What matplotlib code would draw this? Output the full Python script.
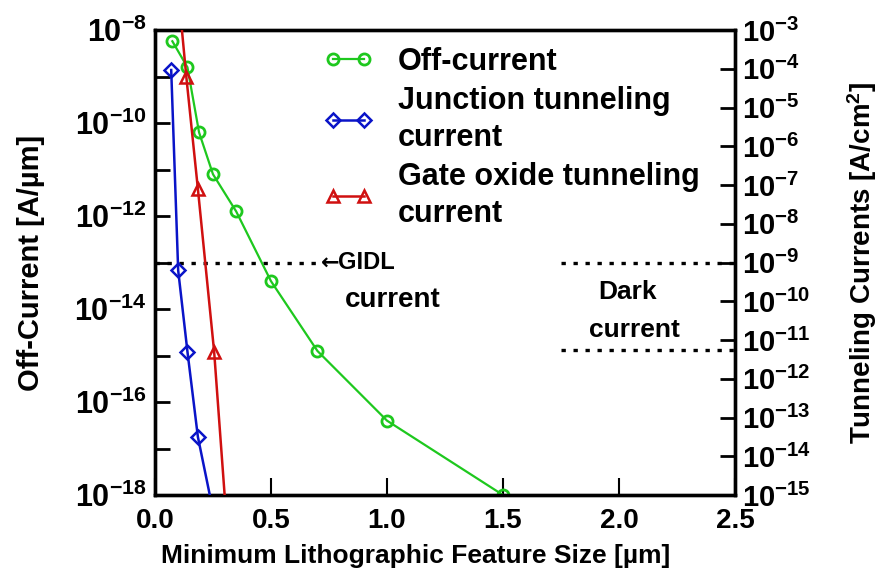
import math
import matplotlib
matplotlib.use("Agg")
import matplotlib.pyplot as plt
from matplotlib.lines import Line2D
from matplotlib.ticker import FixedLocator, FuncFormatter, NullLocator

plt.rcParams['font.family'] = ['Liberation Sans', 'DejaVu Sans']
plt.rcParams['font.weight'] = 'bold'
plt.rcParams['axes.labelweight'] = 'bold'
plt.rcParams['mathtext.default'] = 'regular'

# Off-current (left axis, A/um)
off_x = [0.075, 0.14, 0.19, 0.25, 0.35, 0.5, 0.7, 1.0, 1.5]
off_y = [10**-8.24, 10**-8.8, 10**-10.2, 10**-11.1, 10**-11.9,
         10**-13.4, 10**-14.9, 10**-16.4, 10**-18.0]

# Junction tunneling current (right axis, A/cm^2)
jun_x = [0.07, 0.10, 0.14, 0.185, 0.25]
jun_y = [10**-4.03, 10**-9.2, 10**-11.3, 10**-13.5, 10**-15.4]

# Gate oxide tunneling current (right axis, A/cm^2)
gate_x = [0.11, 0.135, 0.185, 0.255, 0.31]
gate_y = [10**-2.6, 10**-4.2, 10**-7.1, 10**-11.3, 10**-15.8]

left_decades = list(range(-18, -7))
right_decades = list(range(-15, -2))
gidl_level = 1e-13
dark_level = 10**-11.26

fig = plt.figure(figsize=(8.83, 5.79), dpi=100)
ax = fig.add_axes([0.1755, 0.145, 0.657, 0.803])
ax2 = ax.twinx()

green = '#1ec81e'
blue = '#0a14c8'
red = '#d01010'

ax.plot(off_x, off_y, '-', color=green, lw=1.6, marker='o', ms=8,
        mfc='none', mec=green, mew=2, zorder=3)
ax2.plot(jun_x, jun_y, '-', color=blue, lw=1.8, marker='D', ms=7,
         mfc='none', mec=blue, mew=1.8, zorder=3)
ax2.plot(gate_x, gate_y, '-', color=red, lw=1.8, marker='^', ms=9,
         mfc='none', mec=red, mew=1.8, zorder=3)

# dotted reference levels
dots = (0, (1.3, 2.3))
ax.plot([0, 0.72], [gidl_level, gidl_level], color='black', ls=dots, lw=2.4)
ax.plot([1.75, 2.5], [gidl_level, gidl_level], color='black', ls=dots, lw=2.4)
ax2.plot([1.75, 2.5], [dark_level, dark_level], color='black', ls=dots, lw=2.4)

ax.text(0.715, gidl_level, '\u2190', fontsize=16, va='center', ha='left',
        family='DejaVu Sans')
ax.text(0.79, gidl_level, 'GIDL', fontsize=17, va='center', ha='left')
ax.text(0.82, 10**-13.8, 'current', fontsize=20, va='center', ha='left')
ax2.text(1.91, 10**-9.75, 'Dark', fontsize=19, va='center', ha='left')
ax2.text(1.87, 10**-10.75, 'current', fontsize=19, va='center', ha='left')

ax.set_xlim(0, 2.5)
ax.set_yscale('log')
ax.set_ylim(1e-18, 1e-8)
ax2.set_yscale('log')
ax2.set_ylim(1e-15, 1e-3)

ax.set_xticks([0.0, 0.5, 1.0, 1.5, 2.0, 2.5])
ax.set_xticklabels(['0.0', '0.5', '1.0', '1.5', '2.0', '2.5'])
ax.yaxis.set_major_locator(FixedLocator([10.0**d for d in left_decades]))
ax.yaxis.set_minor_locator(NullLocator())
ax.yaxis.set_major_formatter(FuncFormatter(
    lambda v, p: '$10^{%d}$' % round(math.log10(v))
    if round(math.log10(v)) % 2 == 0 else ''))
ax2.yaxis.set_major_locator(FixedLocator([10.0**d for d in right_decades]))
ax2.yaxis.set_minor_locator(NullLocator())
ax2.yaxis.set_major_formatter(FuncFormatter(
    lambda v, p: '$10^{%d}$' % round(math.log10(v))))

ax.tick_params(axis='x', direction='in', length=12, width=1.5, labelsize=20,
               pad=9, top=False)
ax.tick_params(axis='y', direction='in', length=11, width=2, labelsize=22, pad=6)
ax2.tick_params(axis='y', direction='in', length=11, width=2, labelsize=21, pad=5)

for a in (ax, ax2):
    for s in a.spines.values():
        s.set_linewidth(2.4)

ax.set_xlabel('Minimum Lithographic Feature Size [\u00b5m]', fontsize=19)
ax.set_ylabel('Off-Current [A/\u00b5m]', fontsize=21)
ax2.set_ylabel('Tunneling Currents [A/cm$^2$]', fontsize=20)
ax.xaxis.set_label_coords(0.45, -0.105)
ax.yaxis.set_label_coords(-0.19, 0.5)
ax2.yaxis.set_label_coords(1.19, 0.5)

handles = [
    Line2D([], [], color=green, lw=1.6, marker='o', ms=8, mfc='none', mec=green, mew=2),
    Line2D([], [], color=blue, lw=1.8, marker='D', ms=7, mfc='none', mec=blue, mew=1.8),
    Line2D([], [], color=red, lw=1.8, marker='^', ms=9, mfc='none', mec=red, mew=1.8),
]
labels = ['Off-current', 'Junction tunneling\ncurrent', 'Gate oxide tunneling\ncurrent']
leg = ax2.legend(handles, labels, loc='upper left', bbox_to_anchor=(0.255, 1.01),
                 frameon=False, fontsize=22, numpoints=2, handlelength=1.6,
                 handletextpad=0.8, labelspacing=0.3, borderaxespad=0.3)
for t in leg.get_texts():
    t.set_linespacing(1.3)

fig.savefig('out.png', dpi=100)
